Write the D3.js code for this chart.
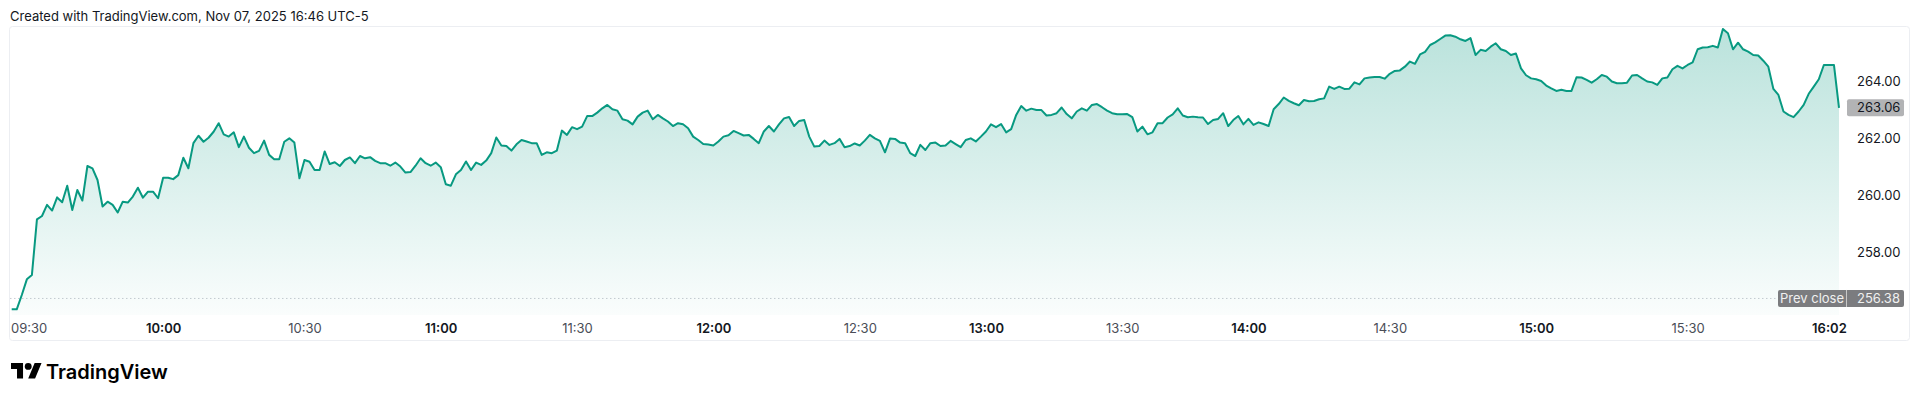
<!DOCTYPE html>
<html><head><meta charset="utf-8">
<script src="https://cdn.jsdelivr.net/npm/d3@7"></script>
<style>
html,body{margin:0;padding:0;background:#fff;}
svg{display:block;font-family:Inter,"Noto Sans",sans-serif;}
</style></head>
<body><svg id="c" width="1920" height="400"></svg>
<script>
// ---- data ----
const prices = [
256.00,256.00,256.50,257.05,257.20,259.15,259.27,259.66,259.46,259.92,
259.75,260.33,259.48,260.18,259.81,261.02,260.94,260.53,259.60,259.77,
259.66,259.39,259.77,259.74,259.95,260.26,259.91,260.12,260.12,259.89,
260.61,260.61,260.56,260.70,261.31,260.94,261.82,262.08,261.87,262.01,
262.22,262.52,262.13,262.05,262.20,261.68,262.05,261.66,261.47,261.55,
261.91,261.41,261.26,261.26,261.87,261.99,261.84,260.59,261.23,261.17,
260.88,260.88,261.53,261.09,261.15,261.02,261.23,261.32,261.12,261.37,
261.29,261.33,261.20,261.12,261.12,261.03,261.14,261.00,260.79,260.81,
261.03,261.29,261.12,261.03,261.14,260.98,260.38,260.33,260.73,260.88,
261.18,260.88,261.14,261.06,261.21,261.47,262.02,261.74,261.72,261.56,
261.78,261.93,261.88,261.82,261.82,261.41,261.50,261.47,261.56,262.26,
262.11,262.38,262.31,262.40,262.77,262.77,262.89,263.04,263.16,263.01,
262.96,262.66,262.61,262.48,262.75,262.89,262.96,262.66,262.81,262.69,
262.58,262.42,262.52,262.48,262.34,262.05,261.93,261.79,261.77,261.74,
261.88,262.05,262.10,262.25,262.17,262.09,262.11,261.97,261.82,262.23,
262.42,262.23,262.48,262.69,262.74,262.42,262.60,262.63,262.05,261.70,
261.72,261.91,261.76,261.82,261.97,261.68,261.72,261.81,261.74,261.91,
262.11,261.99,261.90,261.50,261.98,261.97,261.84,261.82,261.47,261.37,
261.76,
261.58,261.82,261.84,261.72,261.74,261.90,261.79,261.68,261.93,261.99,
261.88,262.05,262.23,262.48,262.38,262.49,262.20,262.31,262.81,263.12,
262.96,263.03,262.98,262.98,262.79,262.81,262.87,263.07,262.84,262.69,
262.93,263.04,262.96,263.16,263.19,263.08,262.96,262.87,262.83,262.83,
262.84,262.73,262.23,262.40,262.13,262.20,262.52,262.52,262.72,262.83,
263.04,262.79,262.73,262.75,262.73,262.72,262.49,262.63,262.67,262.87,
262.42,262.63,262.77,262.48,262.67,262.46,262.55,262.49,262.42,263.01,
263.19,263.42,263.30,263.22,263.15,263.33,263.29,263.30,263.36,263.39,
263.80,263.72,263.80,263.72,263.73,263.95,263.88,264.09,264.12,264.14,
264.14,264.08,264.25,264.35,264.37,264.50,264.68,264.60,264.93,265.02,
265.26,265.35,265.47,265.59,265.60,265.55,265.46,265.40,265.50,264.91,
265.09,265.05,265.20,265.32,265.11,265.05,264.91,264.96,264.44,264.20,
264.09,264.06,264.00,263.84,263.74,263.65,263.69,263.65,263.65,264.13,
264.12,264.04,263.94,264.06,264.21,264.15,263.98,263.92,263.92,263.94,
264.19,264.21,264.09,263.98,263.95,263.86,264.09,264.12,264.41,264.53,
264.44,264.56,264.65,265.11,265.17,265.18,265.23,265.17,265.82,265.67,
265.11,265.34,265.11,265.03,264.91,264.89,264.71,264.50,263.72,263.51,
262.93,262.81,262.73,262.93,263.16,263.55,263.80,264.06,264.56,264.56,
264.56,263.06
];
const tickIndex  = [0, 30, 58, 85, 112, 139, 168, 193, 220, 245, 273, 302, 332, 360];
const tickLabels = ["09:30","10:00","10:30","11:00","11:30","12:00","12:30","13:00","13:30","14:00","14:30","15:00","15:30","16:02"];
const yTicks = [258, 260, 262, 264];
const prevClose = 256.38;
const lastPrice = 263.06;
const title = "Created with TradingView.com, Nov 07, 2025 16:46 UTC-5";

// ---- layout ----
const frame = {l:9.5, t:26.5, r:1909.5, b:340.5};
const pane = {l:10, t:27, b:315};
const plotL = 11.7, plotR = 1839;
const green = "#089981";

const svg = d3.select("#c");

svg.append("text").attr("x",10).attr("y",20.5)
  .attr("font-size",13).attr("fill","#131722").text(title);

svg.append("rect").attr("x",frame.l).attr("y",frame.t)
  .attr("width",frame.r-frame.l).attr("height",frame.b-frame.t)
  .attr("rx",3).attr("fill","none").attr("stroke","#eceef2");

const x = d3.scaleLinear().domain([0, prices.length-1]).range([plotL, plotR]);
const y = d3.scaleLinear().domain(d3.extent(prices)).range([pane.b-5.7, pane.t+2]);

const defs = svg.append("defs");
const grad = defs.append("linearGradient").attr("id","ag")
  .attr("gradientUnits","userSpaceOnUse")
  .attr("x1",0).attr("x2",0).attr("y1",y(d3.max(prices))).attr("y2",pane.b);
grad.append("stop").attr("offset",0).attr("stop-color",green).attr("stop-opacity",0.28);
grad.append("stop").attr("offset",1).attr("stop-color",green).attr("stop-opacity",0.02);

// prev close dotted line
svg.append("line").attr("x1",pane.l).attr("x2",1778)
  .attr("y1",y(prevClose)).attr("y2",y(prevClose))
  .attr("stroke","#c9ccd3").attr("stroke-width",1).attr("stroke-dasharray","1.5,2.5");

svg.append("path").datum(prices)
  .attr("d", d3.area().x((d,i)=>x(i)).y0(pane.b).y1(d=>y(d)))
  .attr("fill","url(#ag)");

svg.append("path").datum(prices)
  .attr("d", d3.line().x((d,i)=>x(i)).y(d=>y(d)))
  .attr("fill","none").attr("stroke",green).attr("stroke-width",2)
  .attr("stroke-linejoin","round");

// y axis
const yAxis = svg.append("g").attr("transform","translate(1857,0)")
  .call(d3.axisRight(y).tickValues(yTicks).tickFormat(d3.format(".2f")).tickSize(0).tickPadding(0));
yAxis.select(".domain").remove();
yAxis.selectAll("text").attr("font-size",13).attr("fill","#131722")
  .attr("font-family","Inter,'Noto Sans',sans-serif");

// last price label
const lp = svg.append("g").attr("transform",`translate(0,${y(lastPrice)})`);
lp.append("rect").attr("x",1847).attr("y",-8.5).attr("width",57).attr("height",17)
  .attr("rx",2).attr("fill","#b2b3b5");
lp.append("text").attr("x",1857).attr("dy","0.35em").attr("font-size",13)
  .attr("fill","#131722").text(d3.format(".2f")(lastPrice));

// prev close label
const pc = svg.append("g").attr("transform",`translate(0,${y(prevClose)})`);
pc.append("rect").attr("x",1778).attr("y",-8.5).attr("width",126).attr("height",17)
  .attr("rx",2).attr("fill","#7b7c7f");
pc.append("line").attr("x1",1846.5).attr("x2",1846.5).attr("y1",-8.5).attr("y2",8.5)
  .attr("stroke","#c8c8c8").attr("stroke-width",1);
pc.append("text").attr("x",1812).attr("dy","0.35em").attr("text-anchor","middle")
  .attr("font-size",13).attr("fill","#f0f0f0").text("Prev close");
pc.append("text").attr("x",1857).attr("dy","0.35em")
  .attr("font-size",13).attr("fill","#f0f0f0").text(d3.format(".2f")(prevClose));

// x axis
const xAxis = svg.append("g").attr("transform","translate(0,328)")
  .call(d3.axisBottom(x).tickValues(tickIndex).tickFormat((d,i)=>tickLabels[i]).tickSize(0).tickPadding(0));
xAxis.select(".domain").remove();
xAxis.selectAll("text").attr("y",0).attr("dy","0.35em").attr("font-size",13)
  .attr("font-family","Inter,'Noto Sans',sans-serif")
  .attr("font-weight",(d,i)=>tickLabels[i].endsWith(":30")?400:600)
  .attr("fill",(d,i)=>tickLabels[i].endsWith(":30")?"#4a4d57":"#131722");
xAxis.selectAll(".tick").each(function(d){
  const t = d3.select(this).select("text");
  const w = t.node().getComputedTextLength();
  const cx = x(d);
  if (cx - w/2 < frame.l + 1) t.attr("x", frame.l + 1 + w/2 - cx);
});

// logo
const logo = svg.append("g").attr("transform","translate(11,359.5) scale(0.86)");
logo.append("path").attr("d","M14 22H7V11H0V4h14v18zM28 22h-8l7.5-18h8L28 22z").attr("fill","#000");
logo.append("circle").attr("cx",20).attr("cy",8).attr("r",4).attr("fill","#000");
svg.append("text").attr("x",46).attr("y",378.5).attr("font-size",20)
  .attr("font-weight",600).attr("fill","#000").text("TradingView");
</script>
</body></html>
